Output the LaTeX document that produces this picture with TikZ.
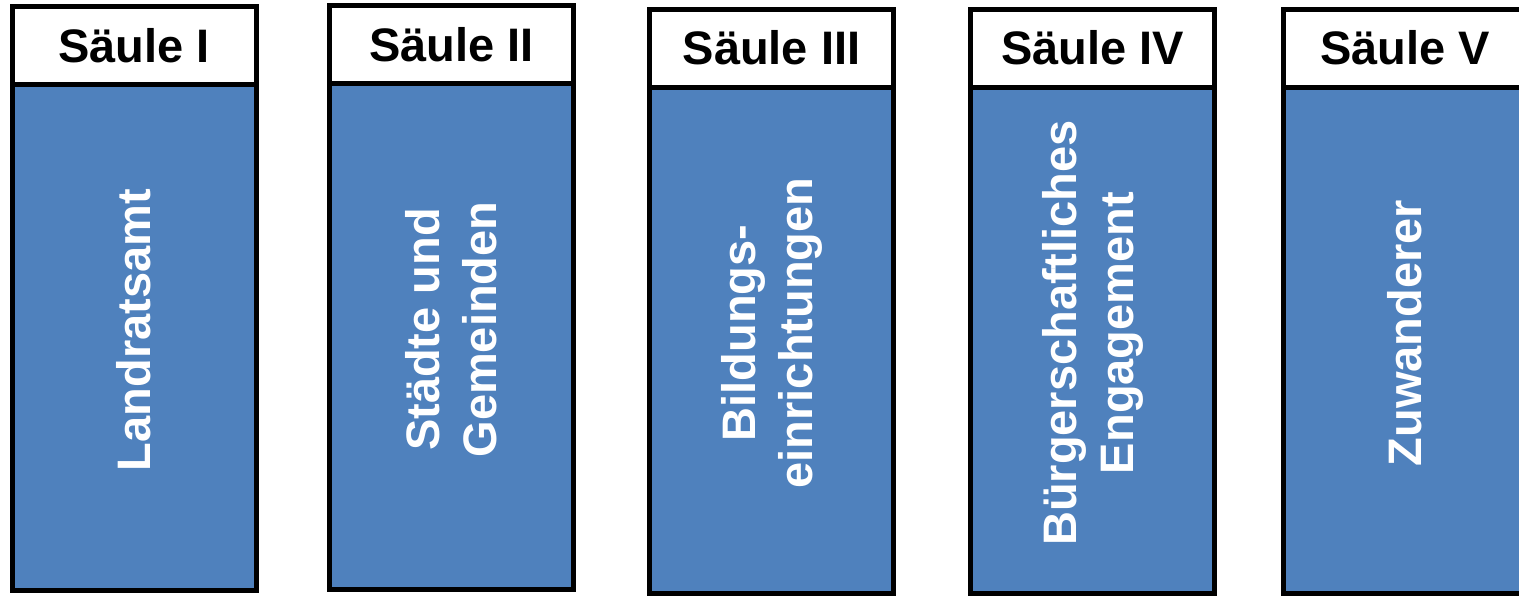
\documentclass[tikz,border=0pt]{standalone}
\usepackage{fontspec}
\setmainfont{Liberation Sans}
\usetikzlibrary{positioning}
\definecolor{saeulenblau}{RGB}{79,129,189}

\begin{document}
\begin{tikzpicture}[x=1pt,y=1pt,node distance=0pt,
		kopf/.style={draw,line width=2.5pt,fill=white,minimum width=122pt,minimum height=39pt,inner sep=0pt,outer sep=0pt,font=\bfseries\fontsize{23.5}{28}\selectfont},
		saeule/.style={draw,line width=2.5pt,fill=saeulenblau,minimum width=122pt,minimum height=253pt,inner sep=0pt,outer sep=0pt},
		aufschrift/.style={rotate=90,align=center,text=white,inner sep=0pt,font=\bfseries\fontsize{23.5}{28.5}\selectfont}]
				\useasboundingbox (0,0) rectangle (759.5,-297.5);
				\node[kopf] (k1) at (67,-22.6) {Säule I};
				\node[kopf] (k2) at (225.75,-22.25) {Säule II};
				\node[kopf] (k3) at (385.75,-24) {Säule III};
				\node[kopf] (k4) at (546.25,-24) {Säule IV};
				\node[kopf] (k5) at (702.5,-24) {Säule V};
				\node[saeule] (s1) [below=of k1] {};
				\node[saeule] (s2) [below=of k2] {};
				\node[saeule] (s3) [below=of k3] {};
				\node[saeule] (s4) [below=of k4] {};
				\node[saeule] (s5) [below=of k5] {};
				\node[aufschrift] (t1) at ([yshift=3.5pt]s1.center) {Landratsamt};
				\node[aufschrift] (t2) at ([yshift=3.5pt]s2.center) {Städte und\\Gemeinden};
				\node[aufschrift] (t3) at ([yshift=3.5pt]s3.center) {Bildungs-\\einrichtungen};
				\node[aufschrift] (t4) at ([yshift=3.5pt]s4.center) {Bürgerschaftliches\\Engagement};
				\node[aufschrift] (t5) at ([yshift=3.5pt]s5.center) {Zuwanderer};
			\end{tikzpicture}
\end{document}
